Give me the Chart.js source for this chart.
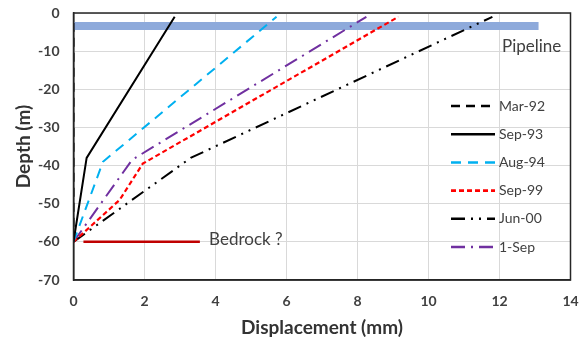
<!DOCTYPE html>
<html>
<head>
<meta charset="utf-8">
<script src="https://cdn.jsdelivr.net/npm/chart.js@4.4.1/dist/chart.umd.min.js"></script>
<style>
  html, body { margin: 0; padding: 0; background: #fff; }
</style>
</head>
<body>
<canvas id="depthChart" width="588" height="339"></canvas>
<script>
// Inclinometer profiles: displacement (mm) against depth (m)
const mar92Disp = [0, 0];
const mar92Depth = [-60, -1];
const sep93Disp = [0, 0.37, 2.85];
const sep93Depth = [-60, -38, -1];
const aug94Disp = [0, 0.83, 5.72];
const aug94Depth = [-60, -39, -1];
const sep99Disp = [0, 1.3, 1.95, 9.15];
const sep99Depth = [-60, -49, -39.5, -1];
const jun00Disp = [0, 3.3, 11.8];
const jun00Depth = [-60, -38, -1];
const sep01Disp = [0, 1.65, 8.25];
const sep01Depth = [-60, -38.5, -1];

// reference lines
const pipelineDisp = [0, 13.1];
const pipelineDepth = [-3.4, -3.4];
const bedrockDisp = [0.28, 3.56];
const bedrockDepth = [-60, -60];

const xTicks = [0, 2, 4, 6, 8, 10, 12, 14];
const yTicks = [0, -10, -20, -30, -40, -50, -60, -70];

const FONT = 'Lato, "Open Sans", sans-serif';
const TEXT = '#404040';

const toPoints = (xs, ys) => xs.map((x, i) => ({ x: x, y: ys[i] }));

function profile(label, xs, ys, color, dash, width) {
    return {
        label: label,
        data: toPoints(xs, ys),
        borderColor: color,
        backgroundColor: color,
        borderDash: dash,
        borderWidth: width,
        pointRadius: 0,
        showLine: true,
        fill: false
    };
}

const profiles = [
    profile('Mar-92', mar92Disp, mar92Depth, '#000000', [9, 6], 2),
    profile('Sep-93', sep93Disp, sep93Depth, '#000000', [], 2),
    profile('Aug-94', aug94Disp, aug94Depth, '#00b0f0', [10, 7], 2),
    profile('Sep-99', sep99Disp, sep99Depth, '#ff0000', [5, 3], 2.2),
    profile('Jun-00', jun00Disp, jun00Depth, '#000000', [14, 6, 2, 6, 2, 6], 2),
    profile('1-Sep', sep01Disp, sep01Depth, '#7030a0', [14, 6, 2, 6], 2)
];

// drawn first (last in the list) so the profiles sit on top
const extras = [
    profile('Bedrock', bedrockDisp, bedrockDepth, '#c00000', [], 2.5),
    profile('Pipeline', pipelineDisp, pipelineDepth, '#8eaadb', [], 8)
];

// frame, in-plot labels and the legend box on the right
const decorPlugin = {
    id: 'decor',
    afterDatasetsDraw(chart) {
        const { ctx, chartArea } = chart;
        const xs = chart.scales.x, ys = chart.scales.y;
        ctx.save();

        ctx.strokeStyle = '#262626';
        ctx.lineWidth = 1.5;
        ctx.strokeRect(chartArea.left, chartArea.top,
            chartArea.right - chartArea.left, chartArea.bottom - chartArea.top);

        ctx.fillStyle = TEXT;
        ctx.font = '17px ' + FONT;
        ctx.textAlign = 'left';
        ctx.textBaseline = 'middle';
        ctx.fillText('Pipeline', xs.getPixelForValue(12.07), ys.getPixelForValue(-8.9));
        ctx.fillText('Bedrock ?', xs.getPixelForValue(3.82), ys.getPixelForValue(-59.5));

        ctx.font = '14px ' + FONT;
        profiles.forEach((ds, i) => {
            const y = 106 + i * 28.2;
            ctx.beginPath();
            ctx.setLineDash(ds.borderDash);
            ctx.strokeStyle = ds.borderColor;
            ctx.lineWidth = ds.borderWidth + 0.5;
            ctx.moveTo(451, y);
            ctx.lineTo(495, y);
            ctx.stroke();
            ctx.setLineDash([]);
            ctx.fillText(ds.label, 499, y);
        });
        ctx.restore();
    }
};

const ctx = document.getElementById('depthChart').getContext('2d');
const depthChart = new Chart(ctx, {
    type: 'scatter',
    data: { datasets: profiles.concat(extras) },
    options: {
        responsive: false,
        animation: false,
        layout: { padding: { top: 13, right: 17.5, left: 0, bottom: 0 } },
        plugins: {
            legend: { display: false },
            tooltip: { enabled: false }
        },
        scales: {
            x: {
                type: 'linear',
                min: 0,
                max: 14,
                afterFit: (axis) => {
                    axis.height = 59;
                    axis.paddingLeft = 0;
                    axis.paddingRight = 0;
                },
                afterBuildTicks: (axis) => { axis.ticks = xTicks.map(v => ({ value: v })); },
                grid: { color: '#d9d9d9', lineWidth: 1, drawTicks: false },
                border: { color: '#262626', width: 1.5 },
                ticks: {
                    padding: 13,
                    color: TEXT,
                    font: { family: FONT, size: 14, weight: 'bold' }
                },
                title: {
                    display: true,
                    text: 'Displacement (mm)',
                    color: '#333333',
                    padding: { top: 0, bottom: 0 },
                    font: { family: FONT, size: 19, weight: 'bold' }
                }
            },
            y: {
                type: 'linear',
                min: -70,
                max: 0,
                afterFit: (axis) => {
                    axis.width = 73.5;
                    axis.paddingTop = 0;
                    axis.paddingBottom = 0;
                },
                afterBuildTicks: (axis) => { axis.ticks = yTicks.map(v => ({ value: v })); },
                grid: { color: '#d9d9d9', lineWidth: 1, drawTicks: false },
                border: { color: '#262626', width: 1.5 },
                ticks: {
                    padding: 14,
                    color: TEXT,
                    font: { family: FONT, size: 14, weight: 'bold' }
                },
                title: {
                    display: true,
                    text: 'Depth (m)',
                    color: '#333333',
                    padding: { top: 12.5, bottom: 0 },
                    font: { family: FONT, size: 19, weight: 'bold' }
                }
            }
        }
    },
    plugins: [decorPlugin]
});
</script>
</body>
</html>
